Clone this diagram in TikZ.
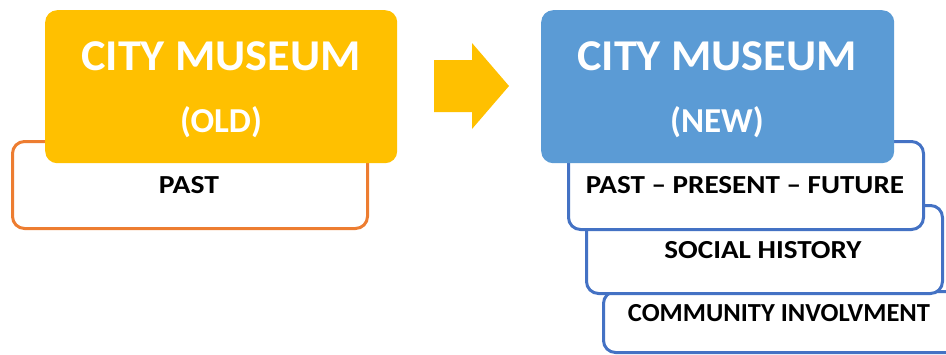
\documentclass[tikz,border=0pt]{standalone}
\usepackage{fontspec}
\setmainfont{Carlito}
\definecolor{oldfill}{HTML}{FFC000}
\definecolor{oldline}{HTML}{ED7D31}
\definecolor{newfill}{HTML}{5B9BD5}
\definecolor{newline}{HTML}{4472C4}
\begin{document}
\begin{tikzpicture}[x=1pt,y=-1pt,
  headbox/.style={rounded corners=12pt, inner sep=0pt, anchor=north west},
  subbox/.style={draw, line width=3pt, fill=white, rounded corners=12pt, inner sep=0pt, anchor=north west},
  title/.style={text=white, font=\bfseries\fontsize{44}{48}\selectfont, inner sep=0pt},
  subtitle/.style={text=white, font=\bfseries\fontsize{35}{38}\selectfont, inner sep=0pt},
  item/.style={text=black, font=\bfseries\fontsize{26}{28}\selectfont, inner sep=0pt}]
\useasboundingbox (0,0) rectangle (946,354);
\clip (0,0) rectangle (946,354);
% old side
\node[subbox, draw=oldline, minimum width=355pt, minimum height=87pt] (pastbox) at (11,140) {};
\node[headbox, fill=oldfill, minimum width=352pt, minimum height=153pt] (oldbox) at (45,10) {};
\node[title] (oldt) at (221,56) {\scalebox{1.05}[1]{CITY MUSEUM}};
\node[subtitle] (olds) at (221,122) {(OLD)};
\node[item] (past) at (189,185) {\scalebox{1.14}[1]{PAST}};
% arrow
\fill[oldfill] (434,60) -- (472,60) -- (472,43) -- (509,86) -- (472,129) -- (472,112) -- (434,112) -- cycle;
% new side
\node[subbox, draw=newline, minimum width=356pt, minimum height=61pt] (commbox) at (602,290) {};
\node[subbox, draw=newline, minimum width=356pt, minimum height=88pt] (socbox) at (585,204) {};
\node[subbox, draw=newline, minimum width=355pt, minimum height=88pt] (ppfbox) at (567,140) {};
\node[headbox, fill=newfill, minimum width=353pt, minimum height=153pt] (newbox) at (541,10) {};
\node[title] (newt) at (717,56) {\scalebox{1.05}[1]{CITY MUSEUM}};
\node[subtitle] (news) at (717,122) {(NEW)};
\node[item] (ppf) at (745,185) {\scalebox{1.12}[1]{PAST – PRESENT – FUTURE}};
\node[item] (soc) at (763,250) {\scalebox{1.12}[1]{SOCIAL HISTORY}};
\node[item] (comm) at (779,313) {\scalebox{1.02}[1]{COMMUNITY INVOLVMENT}};
\end{tikzpicture}
\end{document}
